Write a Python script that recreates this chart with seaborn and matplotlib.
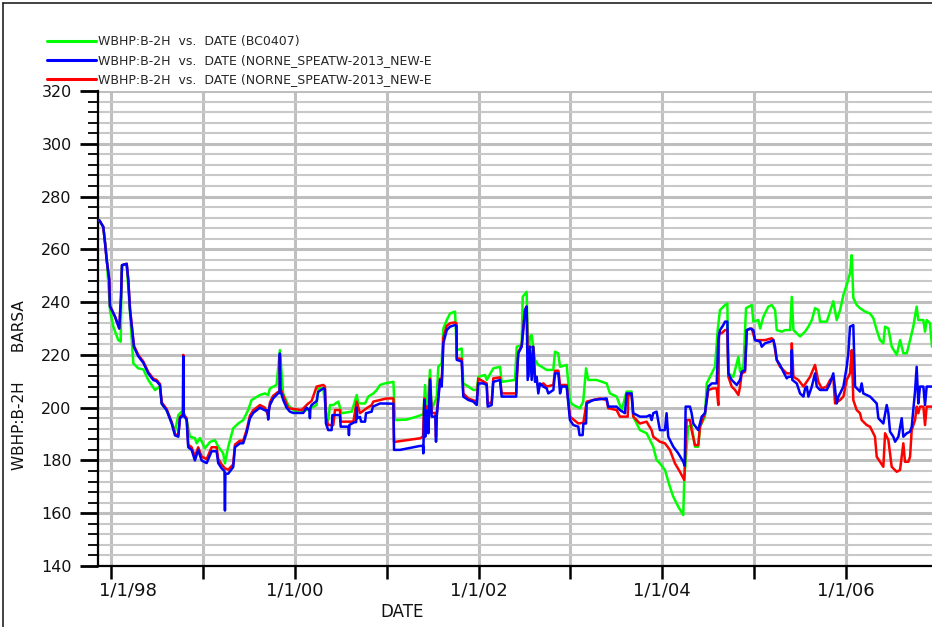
import numpy as np
import pandas as pd
import matplotlib
matplotlib.use("Agg")
import matplotlib.pyplot as plt
from matplotlib.ticker import MultipleLocator
from matplotlib.lines import Line2D
from matplotlib.transforms import ScaledTranslation
import seaborn as sns

# ---------------- data (decimal year, WBHP in BARSA) ----------------
green_pts = [
    (1997.873, 271), (1997.916, 268.5), (1997.935, 262.5), (1997.953, 257), (1997.989, 237),
    (1998.025, 230.7), (1998.079, 225.6), (1998.106, 225), (1998.116, 252), (1998.120, 254),
    (1998.171, 254.5), (1998.188, 245.8), (1998.207, 236), (1998.243, 216.8), (1998.297, 214.9),
    (1998.352, 214.5), (1998.406, 210.5), (1998.479, 206.7), (1998.533, 208), (1998.552, 201.5),
    (1998.606, 199), (1998.661, 194.5), (1998.697, 191), (1998.733, 197.2), (1998.770, 198.5),
    (1998.787, 198.5), (1998.824, 195.3), (1998.860, 189), (1998.914, 188.5), (1998.933, 186.5),
    (1998.969, 188.5), (1999.023, 184.6), (1999.078, 187), (1999.132, 187.7), (1999.168, 185.2),
    (1999.222, 182.7), (1999.241, 178.9), (1999.277, 185.2), (1999.331, 192.2), (1999.386, 194),
    (1999.440, 195.3), (1999.494, 199.1), (1999.531, 202.9), (1999.622, 204.8), (1999.676, 205.4),
    (1999.712, 204.8), (1999.731, 207.3), (1999.803, 208.6), (1999.839, 221.8), (1999.875, 205.4),
    (1999.930, 201), (1999.984, 199.1), (2000.057, 198), (2000.130, 199.1), (2000.239, 201),
    (2000.256, 207.3), (2000.311, 207.3), (2000.348, 196.6), (2000.365, 195.3), (2000.384, 201),
    (2000.420, 201), (2000.474, 202.3), (2000.511, 197.9), (2000.620, 198.5), (2000.637, 200.4),
    (2000.674, 204.8), (2000.692, 201.6), (2000.765, 201.6), (2000.800, 204.2), (2000.855, 205.4),
    (2000.892, 206.7), (2000.928, 208.6), (2000.982, 209.2), (2001.073, 209.8), (2001.091, 195.3),
    (2001.218, 195.5), (2001.327, 196.6), (2001.399, 197.5), (2001.418, 208.6), (2001.436, 196.6),
    (2001.472, 214.3), (2001.490, 199.1), (2001.545, 204.2), (2001.562, 215.5), (2001.599, 216.8),
    (2001.617, 230), (2001.654, 233.2), (2001.690, 235.7), (2001.744, 236.4), (2001.763, 221.8),
    (2001.817, 222.4), (2001.834, 209.2), (2001.889, 208), (2001.943, 206.7), (2001.980, 206.7),
    (2001.998, 211.7), (2002.071, 212.4), (2002.089, 210.5), (2002.161, 214.9), (2002.234, 215.5),
    (2002.252, 209.8), (2002.397, 210.5), (2002.416, 223.1), (2002.470, 223.7), (2002.481, 242),
    (2002.524, 243.9), (2002.542, 218.1), (2002.560, 226.9), (2002.579, 227.5), (2002.615, 218.1),
    (2002.651, 216.2), (2002.688, 215.5), (2002.742, 214.3), (2002.814, 214.3), (2002.833, 221.2),
    (2002.868, 220.6), (2002.888, 215.5), (2002.960, 216.2), (2002.996, 202.3), (2003.032, 201),
    (2003.105, 199.8), (2003.140, 202.3), (2003.171, 214.9), (2003.195, 210.5), (2003.286, 210.5),
    (2003.395, 209.2), (2003.431, 205.4), (2003.504, 204.2), (2003.559, 199.1), (2003.613, 206.1),
    (2003.667, 206.1), (2003.685, 196.6), (2003.758, 191.5), (2003.831, 190.3), (2003.903, 185.2),
    (2003.939, 180.2), (2003.975, 178.9), (2004.030, 176.4), (2004.084, 170), (2004.120, 166.3),
    (2004.175, 162.5), (2004.229, 159.3), (2004.240, 172.6), (2004.266, 185), (2004.283, 192.8),
    (2004.320, 193.4), (2004.356, 185.2), (2004.392, 185.2), (2004.411, 192.8), (2004.465, 196.6),
    (2004.484, 209.2), (2004.538, 213), (2004.574, 215.5), (2004.603, 229.4), (2004.628, 237),
    (2004.683, 238.9), (2004.708, 239.5), (2004.719, 213), (2004.773, 211.7), (2004.828, 219.3),
    (2004.846, 213.6), (2004.882, 215.5), (2004.911, 237.7), (2004.973, 238.9), (2004.991, 232.6),
    (2005.045, 233.2), (2005.064, 230), (2005.100, 234.5), (2005.154, 238.3), (2005.191, 238.9),
    (2005.227, 237), (2005.245, 229.4), (2005.300, 228.8), (2005.336, 229.4), (2005.390, 229.4),
    (2005.409, 242), (2005.427, 229.4), (2005.499, 227), (2005.553, 228.8), (2005.590, 230.7),
    (2005.627, 233.2), (2005.662, 237.7), (2005.699, 237), (2005.717, 232.6), (2005.790, 232.6),
    (2005.826, 236.4), (2005.861, 240.3), (2005.898, 233.2), (2005.935, 237), (2005.971, 242.7),
    (2006.007, 246.5), (2006.043, 250.9), (2006.062, 257.8), (2006.079, 241.6), (2006.116, 238.9),
    (2006.152, 237.7), (2006.207, 236.4), (2006.261, 235.7), (2006.297, 233.9), (2006.334, 229.4),
    (2006.370, 225.6), (2006.406, 224.4), (2006.425, 230.7), (2006.461, 230), (2006.497, 223.1),
    (2006.552, 220), (2006.588, 225.6), (2006.624, 220.6), (2006.661, 220.6), (2006.697, 225.6),
    (2006.732, 230.7), (2006.769, 238.3), (2006.787, 233.2), (2006.842, 233.2), (2006.860, 228.8),
    (2006.878, 233.2), (2006.914, 232), (2006.936, 223.1),
]

blue_pts = [
    (1997.873, 271), (1997.916, 268.5), (1997.935, 262.5), (1997.953, 256), (1997.981, 248.5),
    (1997.989, 238.5), (1998.044, 234.5), (1998.090, 230), (1998.109, 242), (1998.120, 254),
    (1998.171, 254.5), (1998.188, 248.5), (1998.207, 237), (1998.250, 223), (1998.297, 219.5),
    (1998.352, 217), (1998.406, 213), (1998.460, 210.5), (1998.497, 210), (1998.533, 208.5),
    (1998.552, 201.5), (1998.606, 199), (1998.661, 194), (1998.697, 189.5), (1998.733, 189),
    (1998.751, 196), (1998.784, 197), (1998.787, 219.5), (1998.790, 197), (1998.824, 195.5),
    (1998.841, 185), (1998.878, 184), (1998.914, 180), (1998.950, 184), (1998.987, 180),
    (1999.042, 179), (1999.096, 183.5), (1999.150, 183.5), (1999.168, 179), (1999.205, 177),
    (1999.236, 176), (1999.241, 161), (1999.246, 175), (1999.277, 175), (1999.331, 177.5),
    (1999.350, 185), (1999.404, 186.5), (1999.440, 186.5), (1999.477, 190.5), (1999.513, 196),
    (1999.549, 198), (1999.622, 200), (1999.676, 199), (1999.705, 199), (1999.712, 195.5),
    (1999.720, 199), (1999.731, 201), (1999.766, 203.5), (1999.821, 205.5), (1999.836, 205.5),
    (1999.839, 220.5), (1999.845, 206.5), (1999.875, 203), (1999.912, 200), (1999.948, 198.5),
    (1999.984, 198), (2000.093, 198), (2000.130, 200), (2000.160, 199), (2000.166, 196),
    (2000.172, 200), (2000.184, 201), (2000.239, 202.5), (2000.256, 206), (2000.311, 207.3),
    (2000.329, 207), (2000.340, 194), (2000.365, 191.5), (2000.402, 191.5), (2000.410, 197.2),
    (2000.492, 197.2), (2000.500, 192.8), (2000.583, 192.8), (2000.590, 189.6), (2000.596, 193.5),
    (2000.650, 194.5), (2000.668, 194.5), (2000.674, 200), (2000.681, 196), (2000.710, 196.5),
    (2000.722, 194.7), (2000.765, 194.7), (2000.775, 197.9), (2000.837, 198.5), (2000.850, 200.4),
    (2000.928, 201.6), (2001.073, 201.5), (2001.080, 184), (2001.145, 184), (2001.363, 185.5),
    (2001.395, 185.5), (2001.399, 182.7), (2001.410, 202.9), (2001.420, 189), (2001.436, 199),
    (2001.454, 190.3), (2001.472, 210.5), (2001.490, 196.6), (2001.530, 196.6), (2001.537, 187.1),
    (2001.545, 196.6), (2001.581, 210.5), (2001.599, 208), (2001.617, 224.4), (2001.654, 229.4),
    (2001.690, 230.7), (2001.744, 231.3), (2001.760, 231), (2001.763, 218.1), (2001.817, 217.5),
    (2001.834, 204.2), (2001.889, 202.9), (2001.943, 202.3), (2001.980, 201), (2001.998, 209.2),
    (2002.052, 209.2), (2002.089, 208.6), (2002.100, 200.4), (2002.143, 201), (2002.161, 209.8),
    (2002.234, 210.5), (2002.252, 204.2), (2002.410, 204.2), (2002.416, 211.7), (2002.433, 220.6),
    (2002.470, 223.1), (2002.506, 237), (2002.524, 238.3), (2002.535, 210.5), (2002.560, 223.1),
    (2002.579, 210.5), (2002.596, 223.1), (2002.615, 209.8), (2002.633, 211.7), (2002.651, 205.4),
    (2002.669, 209.2), (2002.706, 208), (2002.742, 207.3), (2002.760, 205.4), (2002.815, 206.7),
    (2002.833, 213), (2002.870, 213), (2002.888, 205.4), (2002.905, 208), (2002.960, 208),
    (2002.996, 195.3), (2003.033, 193.4), (2003.087, 192.8), (2003.100, 189.6), (2003.134, 189.6),
    (2003.142, 194), (2003.171, 194), (2003.178, 201.6), (2003.214, 202.3), (2003.250, 202.9),
    (2003.395, 203.5), (2003.413, 200.4), (2003.504, 200.4), (2003.540, 199.1), (2003.595, 197.9),
    (2003.613, 205.4), (2003.667, 205.4), (2003.685, 197.9), (2003.758, 196.6), (2003.830, 196.6),
    (2003.867, 197.2), (2003.885, 195.3), (2003.903, 197.9), (2003.939, 198.5), (2003.975, 191.5),
    (2004.030, 191.5), (2004.048, 197.9), (2004.066, 189), (2004.121, 185.2), (2004.175, 182.7),
    (2004.229, 179.5), (2004.245, 178), (2004.255, 200.4), (2004.302, 200.4), (2004.320, 197.9),
    (2004.338, 194), (2004.392, 191.5), (2004.429, 196.6), (2004.465, 197.9), (2004.501, 208),
    (2004.538, 209.2), (2004.592, 209.2), (2004.610, 225.6), (2004.628, 229.4), (2004.664, 231.3),
    (2004.683, 232.6), (2004.708, 232.6), (2004.719, 213), (2004.755, 210.5), (2004.810, 208.6),
    (2004.846, 210.5), (2004.864, 213.6), (2004.900, 214.3), (2004.919, 229.4), (2004.955, 230),
    (2004.991, 229.4), (2005.009, 225.6), (2005.064, 225), (2005.082, 223.1), (2005.118, 224.4),
    (2005.173, 225), (2005.209, 225.6), (2005.227, 223.1), (2005.245, 218.1), (2005.281, 216.2),
    (2005.317, 213.6), (2005.354, 211.1), (2005.372, 211.7), (2005.405, 211.7), (2005.409, 221.8),
    (2005.415, 210.5), (2005.463, 209.2), (2005.499, 205.4), (2005.536, 204.2), (2005.554, 207.3),
    (2005.572, 208), (2005.590, 204.2), (2005.627, 208), (2005.662, 213), (2005.681, 208),
    (2005.717, 206.7), (2005.790, 206.7), (2005.808, 208), (2005.826, 209.2), (2005.861, 213),
    (2005.898, 201.6), (2005.916, 204.2), (2005.935, 205.4), (2005.971, 208), (2005.989, 211.7),
    (2006.007, 215.5), (2006.025, 220.6), (2006.043, 230.7), (2006.079, 231.3), (2006.098, 208),
    (2006.152, 206.1), (2006.170, 209.2), (2006.188, 205.4), (2006.225, 204.8), (2006.261, 204.2),
    (2006.297, 202.9), (2006.334, 201.6), (2006.352, 196), (2006.406, 194), (2006.443, 201),
    (2006.461, 197.9), (2006.479, 190.9), (2006.515, 189), (2006.534, 187.1), (2006.570, 189),
    (2006.606, 196), (2006.624, 189), (2006.661, 190.3), (2006.697, 190.9), (2006.715, 192.8),
    (2006.751, 206.1), (2006.769, 215.5), (2006.787, 201.6), (2006.805, 208), (2006.842, 208),
    (2006.860, 201), (2006.878, 208), (2006.936, 208),
]

red_pts = [
    (1997.873, 271), (1997.916, 268.5), (1997.935, 262.5), (1997.953, 256), (1997.981, 248.5),
    (1997.989, 238.5), (1998.044, 234.5), (1998.090, 230), (1998.109, 242), (1998.120, 254),
    (1998.171, 254.5), (1998.188, 248.5), (1998.207, 237.5), (1998.250, 223.5), (1998.297, 220),
    (1998.352, 217.5), (1998.406, 213.5), (1998.460, 211), (1998.497, 210.5), (1998.533, 209),
    (1998.552, 202), (1998.606, 199.5), (1998.661, 194.5), (1998.697, 190), (1998.733, 189.5),
    (1998.751, 196.5), (1998.784, 197.5), (1998.787, 220), (1998.790, 197.5), (1998.824, 196),
    (1998.841, 186), (1998.878, 185), (1998.914, 181.5), (1998.950, 185), (1998.987, 181.5),
    (1999.042, 180.5), (1999.096, 185), (1999.150, 185), (1999.168, 180.5), (1999.205, 178.5),
    (1999.241, 177), (1999.277, 176.5), (1999.331, 178.5), (1999.350, 186), (1999.404, 187.5),
    (1999.440, 187.5), (1999.477, 191.5), (1999.513, 197), (1999.549, 199), (1999.622, 201),
    (1999.676, 200), (1999.712, 197), (1999.731, 202), (1999.766, 204.5), (1999.821, 206),
    (1999.836, 206), (1999.839, 219.5), (1999.845, 207.3), (1999.930, 199.8), (2000.076, 199.1),
    (2000.148, 201.6), (2000.184, 202.5), (2000.239, 208), (2000.311, 208.6), (2000.329, 208),
    (2000.340, 196.6), (2000.365, 193.4), (2000.420, 193.4), (2000.438, 199.1), (2000.492, 199.1),
    (2000.500, 194.7), (2000.638, 194.7), (2000.674, 202.3), (2000.710, 197.9), (2000.783, 199.8),
    (2000.837, 201), (2000.855, 202.3), (2000.928, 202.9), (2001.001, 203.5), (2001.073, 203.5),
    (2001.080, 187), (2001.218, 187.7), (2001.363, 188.4), (2001.395, 189), (2001.410, 203.5),
    (2001.420, 191), (2001.436, 200.5), (2001.454, 192), (2001.472, 211), (2001.490, 198),
    (2001.530, 198), (2001.537, 189), (2001.545, 198), (2001.581, 211), (2001.599, 209),
    (2001.617, 226.5), (2001.654, 231), (2001.690, 232), (2001.744, 232.3), (2001.760, 232),
    (2001.763, 218.7), (2001.817, 218.5), (2001.834, 205.4), (2001.889, 203.5), (2001.980, 202.3),
    (2001.998, 211), (2002.089, 209.2), (2002.100, 201.6), (2002.143, 202), (2002.161, 211.1),
    (2002.234, 211.5), (2002.252, 205.4), (2002.410, 205.4), (2002.433, 221), (2002.470, 223.5),
    (2002.506, 237), (2002.524, 238.3), (2002.542, 211.7), (2002.560, 223), (2002.596, 223),
    (2002.615, 211.7), (2002.651, 208), (2002.706, 209.2), (2002.742, 208), (2002.815, 208.6),
    (2002.833, 214), (2002.870, 214), (2002.888, 208.6), (2002.960, 208.6), (2002.996, 196.6),
    (2003.087, 194), (2003.142, 194.3), (2003.178, 202.3), (2003.323, 203.5), (2003.395, 202.9),
    (2003.413, 199.8), (2003.504, 199.1), (2003.540, 196.6), (2003.625, 196.6), (2003.630, 204.8),
    (2003.667, 204.8), (2003.685, 196.6), (2003.758, 194), (2003.830, 194.7), (2003.885, 191.5),
    (2003.903, 189), (2003.975, 187.1), (2004.030, 186.5), (2004.084, 184), (2004.139, 178.9),
    (2004.193, 175.7), (2004.240, 172.6), (2004.266, 195.3), (2004.302, 195.3), (2004.320, 191.5),
    (2004.356, 185.8), (2004.392, 185.8), (2004.411, 192.8), (2004.465, 197.9), (2004.501, 206.7),
    (2004.555, 207.3), (2004.592, 207.3), (2004.610, 201), (2004.617, 228.2), (2004.646, 228.2),
    (2004.683, 229.4), (2004.708, 229.4), (2004.719, 211.7), (2004.755, 208), (2004.792, 206.7),
    (2004.828, 204.8), (2004.846, 208), (2004.864, 213), (2004.900, 213.6), (2004.919, 229.4),
    (2004.973, 230), (2005.009, 225.6), (2005.064, 225.6), (2005.118, 225.6), (2005.191, 226.3),
    (2005.209, 225.6), (2005.245, 218.1), (2005.281, 215.5), (2005.354, 213), (2005.405, 213),
    (2005.409, 224.4), (2005.427, 211.7), (2005.481, 210.5), (2005.536, 208), (2005.608, 211.7),
    (2005.662, 216.2), (2005.699, 209.8), (2005.735, 207.3), (2005.790, 208), (2005.826, 210.5),
    (2005.861, 211.7), (2005.880, 201.6), (2005.935, 202.9), (2005.971, 204.2), (2006.007, 210.5),
    (2006.043, 213), (2006.062, 221.8), (2006.079, 202.9), (2006.116, 199.1), (2006.152, 197.9),
    (2006.170, 195.3), (2006.225, 193.4), (2006.261, 192.8), (2006.297, 190.3), (2006.315, 189),
    (2006.334, 181.4), (2006.370, 179.5), (2006.406, 177.6), (2006.425, 190.3), (2006.461, 187.7),
    (2006.497, 177.6), (2006.552, 175.7), (2006.588, 176.4), (2006.624, 186.5), (2006.642, 179.5),
    (2006.679, 179.5), (2006.697, 181.4), (2006.715, 191.5), (2006.751, 195.3), (2006.769, 200.4),
    (2006.787, 197.9), (2006.805, 200.4), (2006.842, 200.4), (2006.860, 193.4), (2006.878, 200.4),
    (2006.936, 200.4),
]

series_keys = ["BC0407", "NORNE_BLUE", "NORNE_RED"]
legend_labels = [
    "WBHP:B-2H  vs.  DATE (BC0407)",
    "WBHP:B-2H  vs.  DATE (NORNE_SPEATW-2013_NEW-E",
    "WBHP:B-2H  vs.  DATE (NORNE_SPEATW-2013_NEW-E",
]
series_colors = {"BC0407": "#00ff00", "NORNE_BLUE": "#0000ff", "NORNE_RED": "#ff0000"}
year_ticks = list(range(1998, 2007))
y_min, y_max = 140, 320
x_min_year, x_max_year = 1997.8585, 2006.936


def to_dt(y):
    yr = int(np.floor(y))
    s = pd.Timestamp(yr, 1, 1)
    e = pd.Timestamp(yr + 1, 1, 1)
    return s + (e - s) * (y - yr)


frames = []
for key, pts in zip(series_keys, [green_pts, blue_pts, red_pts]):
    t, v = zip(*pts)
    frames.append(pd.DataFrame({"DATE": [to_dt(x) for x in t], "WBHP": v, "case": key}))
df = pd.concat(frames, ignore_index=True)

sns.set_style("white")
plt.rcParams["font.family"] = ["DejaVu Sans"]

W, H = 932, 627
fig = plt.figure(figsize=(W / 100, H / 100), dpi=100)
ax = fig.add_axes([98 / W, 1 - 566 / H, (W - 98) / W, (566 - 91) / H])

sns.lineplot(data=df, x="DATE", y="WBHP", hue="case",
             hue_order=["BC0407", "NORNE_RED", "NORNE_BLUE"],
             palette=series_colors, estimator=None, sort=False,
             linewidth=1.8, legend=False, ax=ax, zorder=3)

ax.set_xlim(to_dt(x_min_year), to_dt(x_max_year))
ax.set_ylim(y_min, y_max)

major_dates = [pd.Timestamp(y, 1, 1) for y in year_ticks if y % 2 == 0]
minor_dates = [pd.Timestamp(y, 1, 1) for y in year_ticks if y % 2 == 1]
ax.set_xticks(major_dates)
ax.set_xticklabels([d.strftime("1/1/%y") for d in major_dates])
ax.set_xticks(minor_dates, minor=True)
ax.yaxis.set_major_locator(MultipleLocator(20))
ax.yaxis.set_minor_locator(MultipleLocator(4))

ax.set_axisbelow(True)
ax.grid(True, which="both", axis="x", color="#c0c0c0", linewidth=2.2)
ax.grid(True, which="major", axis="y", color="#bebebe", linewidth=2.2)
ax.grid(True, which="minor", axis="y", color="#c8c8c8", linewidth=1.5)

for s in ["top", "right"]:
    ax.spines[s].set_visible(False)
for s in ["left", "bottom"]:
    ax.spines[s].set_color("black")
    ax.spines[s].set_linewidth(1.6)

ax.tick_params(axis="y", which="major", left=True, length=13, width=2.0,
               direction="out", color="black", pad=6, labelsize=11.5, labelcolor="#111111")
ax.tick_params(axis="y", which="minor", left=True, length=7, width=1.3,
               direction="out", color="black")
ax.tick_params(axis="x", which="both", bottom=True, length=9.5, width=1.8,
               direction="out", color="black", pad=2, labelsize=13, labelcolor="#111111")
ax.set_xlabel("")
ax.set_ylabel("")

first = ax.get_xticklabels()[0]
first.set_horizontalalignment("left")
first.set_transform(first.get_transform() + ScaledTranslation(-0.12, 0, fig.dpi_scale_trans))

fig.text(402 / W, 1 - 612 / H, "DATE", ha="center", va="center", fontsize=12, color="#111111")
fig.text(20 / W, 1 - 385 / H, "WBHP:B-2H      BARSA", rotation=90, ha="center", va="center",
         fontsize=11, color="#111111")

handles = [Line2D([0], [0], color=series_colors[k], lw=2.2) for k in series_keys]
fig.legend(handles, legend_labels, loc="upper left", bbox_to_anchor=(47 / W, 1 - 35 / H),
           bbox_transform=fig.transFigure, frameon=False, fontsize=9,
           handlelength=3.9, handletextpad=0.2, labelspacing=0.5,
           borderpad=0, borderaxespad=0)

fig.add_artist(Line2D([2.5 / W, 2.5 / W], [0, 1 - 2.5 / H], transform=fig.transFigure,
                      color="#222222", lw=1.2))
fig.add_artist(Line2D([2.5 / W, 1], [1 - 2.5 / H, 1 - 2.5 / H], transform=fig.transFigure,
                      color="#222222", lw=1.2))

fig.savefig("out.png", dpi=100)
